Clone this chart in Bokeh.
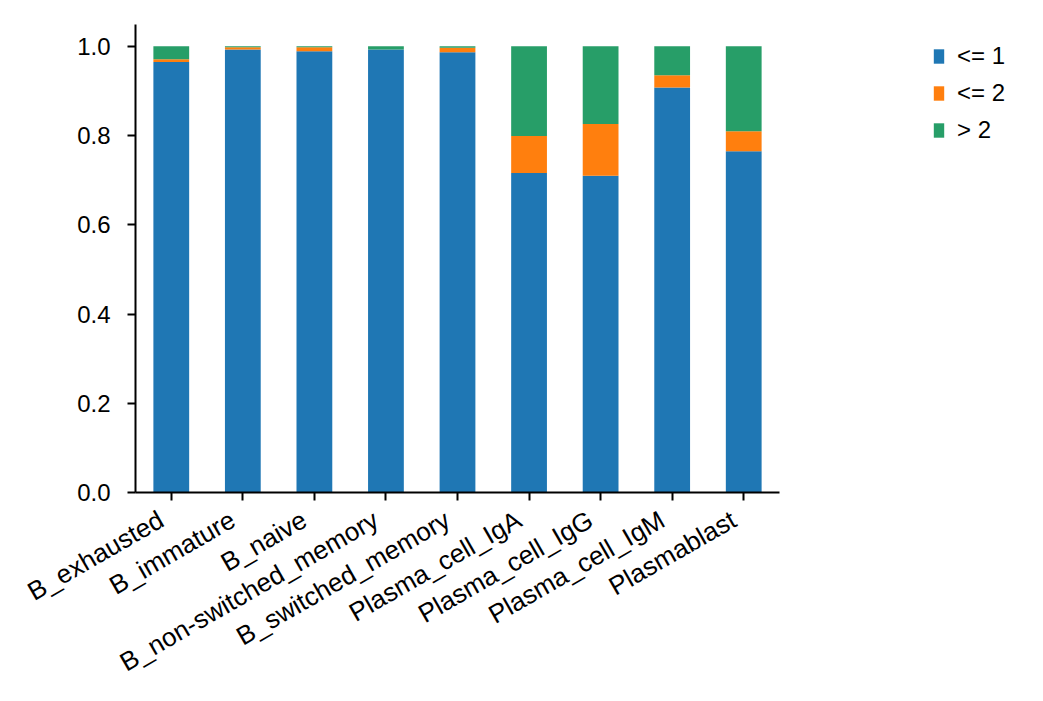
import math
from bokeh.plotting import figure
from bokeh.models import (ColumnDataSource, Range1d, FixedTicker, PrintfTickFormatter, Legend,
                          LegendItem, LinearAxis, CustomJSTickFormatter)
from bokeh.embed import file_html
from bokeh.resources import INLINE

categories = ["B_exhausted", "B_immature", "B_naive", "B_non-switched_memory",
              "B_switched_memory", "Plasma_cell_IgA", "Plasma_cell_IgG",
              "Plasma_cell_IgM", "Plasmablast"]
le1 = [0.965, 0.993, 0.989, 0.993, 0.987, 0.716, 0.710, 0.908, 0.765]
le2 = [0.006, 0.005, 0.009, 0.000, 0.010, 0.083, 0.116, 0.027, 0.045]
gt2 = [0.029, 0.002, 0.002, 0.007, 0.003, 0.201, 0.174, 0.065, 0.190]
series = ["<= 1", "<= 2", "> 2"]
colors = ["#1f77b4", "#ff7f0e", "#279e68"]
yticks = [0.0, 0.2, 0.4, 0.6, 0.8, 1.0]

xs = list(range(len(categories)))
source = ColumnDataSource(data={"x": xs, "<= 1": le1, "<= 2": le2, "> 2": gt2})

FONT = "Liberation Sans"
FS = "24px"
FS_X = "26px"

W, H = 1035, 693
LEFT, TOP, BOTTOM = 135, 24, 200
AXIS_PX = 644                      # pixel length of the category axis
unit = AXIS_PX / len(categories)   # pixels per category
frame_w = W - LEFT
x_end = -0.5 + frame_w / unit

p = figure(x_range=Range1d(-0.5, x_end), y_range=Range1d(0, 1.049),
           width=W, height=H, output_backend="svg", toolbar_location=None,
           min_border_left=LEFT, min_border_right=0, min_border_top=TOP, min_border_bottom=BOTTOM)

renderers = p.vbar_stack(series, x="x", width=0.5, color=colors, source=source, line_width=0)

p.outline_line_color = None
p.xgrid.visible = False
p.ygrid.visible = False

for ax in (p.xaxis[0], p.yaxis[0]):
    ax.axis_line_width = 2
    ax.axis_line_color = "black"
    ax.major_tick_line_width = 2
    ax.major_tick_line_color = "black"
    ax.major_tick_out = 8
    ax.major_tick_in = 0
    ax.minor_tick_line_color = None
    ax.major_label_text_font = FONT
    ax.major_label_text_font_size = FS
    ax.major_label_text_color = "black"

p.yaxis[0].major_label_standoff = 17
p.yaxis[0].ticker = FixedTicker(ticks=yticks)
p.yaxis[0].formatter = PrintfTickFormatter(format="%.1f")

# x axis: line + tick marks only
xa = p.xaxis[0]
xa.ticker = FixedTicker(ticks=xs)
xa.formatter = CustomJSTickFormatter(code="return ''")
xa.major_label_text_font_size = "0px"
xa.major_label_standoff = 0
xa.bounds = (-0.5, len(categories) - 0.5)

# x tick labels (rotated, right end slightly left of each tick like matplotlib)
shift = 10 / unit
label_axis = LinearAxis(ticker=FixedTicker(ticks=[x - shift for x in xs]),
                        formatter=CustomJSTickFormatter(args=dict(labels=categories),
                                                        code="return labels[index]"),
                        axis_line_color=None, major_tick_line_color=None,
                        minor_tick_line_color=None, major_tick_out=0, major_tick_in=0,
                        major_label_orientation=math.pi / 6, major_label_standoff=17,
                        major_label_text_font=FONT, major_label_text_font_size=FS_X,
                        major_label_text_color="black")
p.add_layout(label_axis, "below")

legend = Legend(items=[LegendItem(label=s, renderers=[r]) for s, r in zip(series, renderers)],
                location=(932 - LEFT, (TOP + 469) - 145),
                glyph_width=13, glyph_height=18, label_height=18,
                spacing=9, padding=0, margin=0, label_standoff=12,
                border_line_color=None, background_fill_alpha=0,
                label_text_font=FONT, label_text_font_size=FS, label_text_color="black")
p.add_layout(legend, "center")

open("out.html", "w").write(file_html(p, INLINE))
